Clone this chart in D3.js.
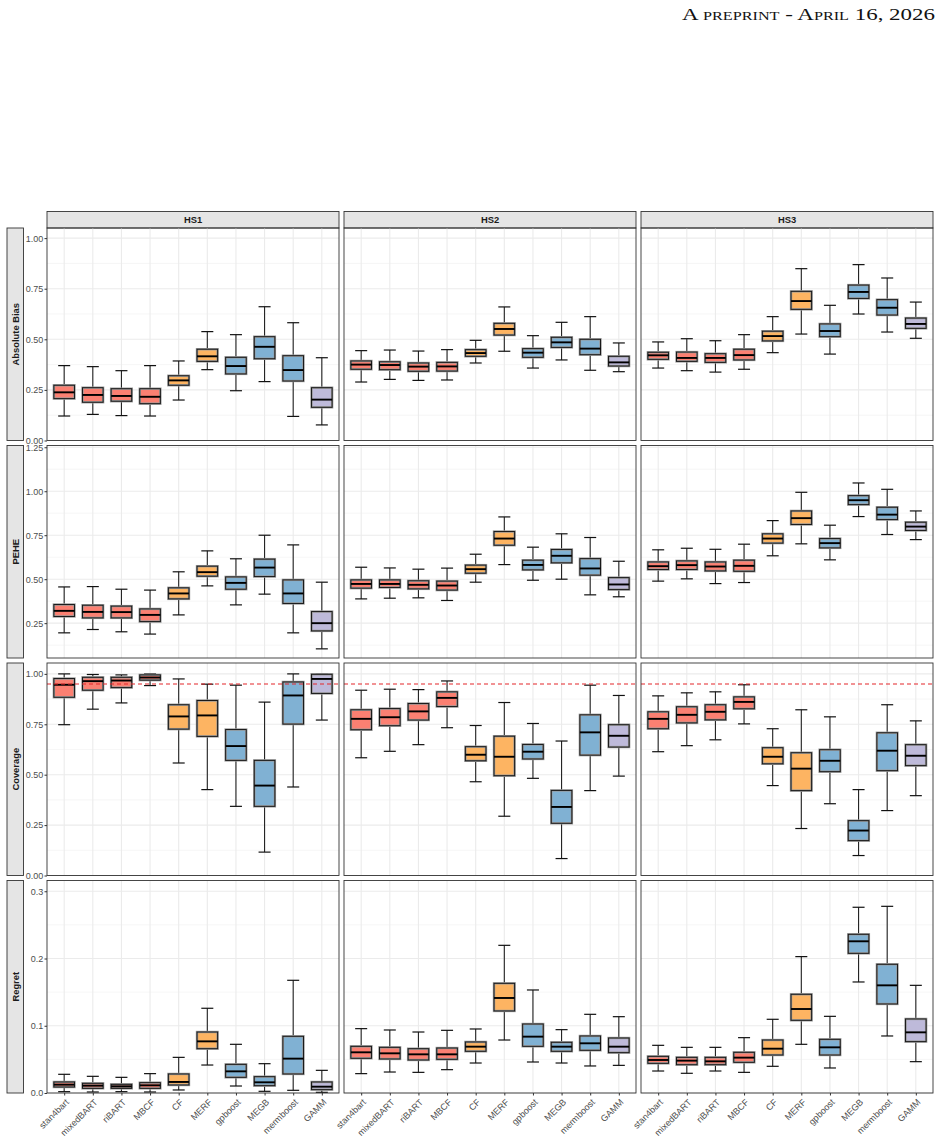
<!DOCTYPE html>
<html>
<head>
<meta charset="utf-8">
<script src="https://cdn.jsdelivr.net/npm/d3@7"></script>
<style>
  body { margin: 0; background: #fff; }
  svg { display: block; }
</style>
</head>
<body>
<div id="chart"></div>
<script>
// methods on the x axis (same for every panel)
const methods = ['stan4bart', 'mixedBART', 'riBART', 'MBCF', 'CF', 'MERF', 'gpboost', 'MEGB', 'mermboost', 'GAMM'];
const methodGroup = ['bart', 'bart', 'bart', 'bart', 'forest', 'forest', 'boost', 'boost', 'boost', 'gamm'];
const groupColors = { bart: '#FB8072', forest: '#FDB462', boost: '#80B1D3', gamm: '#BEBADA' };

const scenarios = ['HS1', 'HS2', 'HS3'];
const metrics = ['Absolute Bias', 'PEHE', 'Coverage', 'Regret'];

// y ranges and tick labels per metric row
const yDomains = [[0, 1.05], [0.052, 1.26], [0, 1.054], [0, 0.316]];
const yTicks = [[0, 0.25, 0.5, 0.75, 1], [0.25, 0.5, 0.75, 1, 1.25], [0, 0.25, 0.5, 0.75, 1], [0, 0.1, 0.2, 0.3]];
const yMinor = [[0.125, 0.375, 0.625, 0.875], [0.125, 0.375, 0.625, 0.875, 1.125], [0.125, 0.375, 0.625, 0.875], [0.05, 0.15, 0.25]];
const yFormats = ['.2f', '.2f', '.2f', '.1f'];
const coverageTarget = 0.95;

// box stats per method: [lower whisker, q1, median, q3, upper whisker]
const biasHS1 = [[0.121, 0.207, 0.238, 0.273, 0.370], [0.129, 0.189, 0.225, 0.261, 0.365], [0.123, 0.194, 0.220, 0.256, 0.345], [0.121, 0.182, 0.216, 0.256, 0.370], [0.200, 0.273, 0.297, 0.320, 0.393],
  [0.350, 0.391, 0.416, 0.451, 0.538], [0.246, 0.329, 0.368, 0.411, 0.523], [0.291, 0.404, 0.463, 0.513, 0.661], [0.119, 0.294, 0.348, 0.419, 0.582], [0.077, 0.164, 0.202, 0.261, 0.409]];
const biasHS2 = [[0.289, 0.352, 0.375, 0.393, 0.444], [0.302, 0.350, 0.373, 0.389, 0.447], [0.297, 0.342, 0.365, 0.383, 0.442], [0.299, 0.343, 0.366, 0.386, 0.449], [0.383, 0.416, 0.432, 0.449, 0.495],
  [0.441, 0.521, 0.551, 0.579, 0.660], [0.358, 0.411, 0.434, 0.454, 0.518], [0.398, 0.460, 0.485, 0.510, 0.584], [0.347, 0.424, 0.454, 0.500, 0.612], [0.340, 0.368, 0.386, 0.416, 0.482]];
const biasHS3 = [[0.358, 0.401, 0.421, 0.436, 0.487], [0.345, 0.391, 0.408, 0.437, 0.503], [0.338, 0.386, 0.408, 0.429, 0.493], [0.352, 0.398, 0.422, 0.451, 0.523], [0.434, 0.492, 0.516, 0.540, 0.612],
  [0.526, 0.648, 0.689, 0.737, 0.849], [0.427, 0.513, 0.541, 0.576, 0.668], [0.625, 0.702, 0.734, 0.768, 0.869], [0.536, 0.620, 0.656, 0.696, 0.803], [0.505, 0.554, 0.576, 0.605, 0.684]];

const peheHS1 = [[0.195, 0.288, 0.320, 0.356, 0.456], [0.214, 0.280, 0.314, 0.352, 0.458], [0.201, 0.280, 0.313, 0.347, 0.443], [0.188, 0.259, 0.297, 0.331, 0.438], [0.297, 0.388, 0.419, 0.451, 0.542],
  [0.462, 0.517, 0.540, 0.574, 0.661], [0.354, 0.443, 0.479, 0.513, 0.616], [0.415, 0.515, 0.566, 0.614, 0.750], [0.195, 0.362, 0.419, 0.496, 0.695], [0.104, 0.206, 0.250, 0.316, 0.483]];
const peheHS2 = [[0.388, 0.449, 0.473, 0.496, 0.568], [0.392, 0.453, 0.473, 0.496, 0.564], [0.394, 0.445, 0.468, 0.491, 0.557], [0.379, 0.438, 0.464, 0.489, 0.563], [0.483, 0.534, 0.557, 0.580, 0.642],
  [0.583, 0.693, 0.731, 0.771, 0.854], [0.494, 0.553, 0.581, 0.608, 0.682], [0.500, 0.593, 0.633, 0.669, 0.758], [0.411, 0.523, 0.561, 0.617, 0.737], [0.400, 0.441, 0.470, 0.509, 0.602]];
const peheHS3 = [[0.489, 0.555, 0.574, 0.598, 0.667], [0.502, 0.555, 0.580, 0.604, 0.676], [0.475, 0.547, 0.572, 0.598, 0.670], [0.481, 0.545, 0.576, 0.608, 0.699], [0.633, 0.705, 0.731, 0.758, 0.833],
  [0.701, 0.811, 0.847, 0.888, 0.994], [0.610, 0.678, 0.705, 0.731, 0.807], [0.856, 0.924, 0.949, 0.975, 1.047], [0.754, 0.839, 0.867, 0.909, 1.011], [0.725, 0.777, 0.799, 0.824, 0.888]];

const coverHS1 = [[0.748, 0.884, 0.946, 0.977, 1.000], [0.825, 0.919, 0.964, 0.983, 0.997], [0.856, 0.932, 0.967, 0.983, 0.995], [0.942, 0.969, 0.982, 0.995, 1.000], [0.558, 0.726, 0.789, 0.847, 0.975],
  [0.426, 0.690, 0.794, 0.868, 0.949], [0.343, 0.571, 0.642, 0.724, 0.944], [0.116, 0.343, 0.446, 0.571, 0.860], [0.439, 0.751, 0.893, 0.960, 1.000], [0.771, 0.903, 0.975, 0.998, 1.000]];
const coverHS2 = [[0.584, 0.723, 0.777, 0.822, 0.919], [0.616, 0.743, 0.785, 0.828, 0.924], [0.649, 0.771, 0.814, 0.853, 0.922], [0.733, 0.838, 0.881, 0.911, 0.965], [0.465, 0.569, 0.599, 0.639, 0.744],
  [0.294, 0.495, 0.589, 0.691, 0.858], [0.482, 0.578, 0.614, 0.650, 0.754], [0.084, 0.259, 0.340, 0.422, 0.667], [0.421, 0.597, 0.710, 0.797, 0.944], [0.493, 0.637, 0.693, 0.748, 0.893]];
const coverHS3 = [[0.614, 0.728, 0.777, 0.812, 0.891], [0.644, 0.757, 0.797, 0.837, 0.906], [0.673, 0.772, 0.812, 0.847, 0.911], [0.752, 0.827, 0.861, 0.886, 0.946], [0.446, 0.554, 0.589, 0.634, 0.728],
  [0.233, 0.421, 0.530, 0.609, 0.822], [0.356, 0.515, 0.569, 0.624, 0.787], [0.099, 0.173, 0.223, 0.272, 0.426], [0.322, 0.520, 0.619, 0.708, 0.847], [0.396, 0.545, 0.594, 0.649, 0.767]];

const regretHS1 = [[0.0020, 0.0089, 0.0124, 0.0164, 0.0278], [0.0015, 0.0069, 0.0109, 0.0144, 0.0248], [0.0020, 0.0069, 0.0099, 0.0129, 0.0233], [0.0015, 0.0069, 0.0114, 0.0154, 0.0288], [0.0045, 0.0119, 0.0164, 0.0283, 0.0530],
  [0.0416, 0.0659, 0.0768, 0.0907, 0.1260], [0.0104, 0.0233, 0.0322, 0.0426, 0.0724], [0.0025, 0.0109, 0.0159, 0.0243, 0.0436], [0.0040, 0.0283, 0.0511, 0.0843, 0.1676], [0.0010, 0.0050, 0.0094, 0.0164, 0.0337]];
const regretHS2 = [[0.0288, 0.0516, 0.0605, 0.0694, 0.0957], [0.0312, 0.0506, 0.0590, 0.0679, 0.0937], [0.0307, 0.0491, 0.0575, 0.0659, 0.0907], [0.0347, 0.0501, 0.0575, 0.0669, 0.0932], [0.0446, 0.0620, 0.0689, 0.0759, 0.0952],
  [0.0788, 0.1220, 0.1413, 0.1631, 0.2196], [0.0461, 0.0694, 0.0838, 0.1026, 0.1532], [0.0446, 0.0620, 0.0689, 0.0754, 0.0942], [0.0402, 0.0635, 0.0739, 0.0848, 0.1170], [0.0411, 0.0600, 0.0689, 0.0818, 0.1135]];
const regretHS3 = [[0.0327, 0.0441, 0.0491, 0.0545, 0.0709], [0.0293, 0.0421, 0.0481, 0.0530, 0.0679], [0.0327, 0.0421, 0.0471, 0.0530, 0.0679], [0.0307, 0.0456, 0.0526, 0.0605, 0.0823], [0.0397, 0.0565, 0.0659, 0.0788, 0.1096],
  [0.0724, 0.1081, 0.1249, 0.1468, 0.2028], [0.0372, 0.0565, 0.0679, 0.0798, 0.1140], [0.1651, 0.2077, 0.2256, 0.2360, 0.2762], [0.0848, 0.1324, 0.1601, 0.1914, 0.2776], [0.0466, 0.0764, 0.0902, 0.1101, 0.1601]];

// rows = metrics, columns = scenarios
const panelData = [
  [biasHS1, biasHS2, biasHS3],
  [peheHS1, peheHS2, peheHS3],
  [coverHS1, coverHS2, coverHS3],
  [regretHS1, regretHS2, regretHS3]
];

const W = 943, H = 1142;
const panelLeft = 47, panelW = 292, panelGapX = 5;
const panelTop = 228, panelH = 212.5, panelGapY = 5;
const stripH = 16.5;
const sans = '"Liberation Sans", Arial, sans-serif';

const svg = d3.select('#chart').append('svg')
  .attr('width', W)
  .attr('height', H)
  .style('font-family', sans);

// page header
svg.append('text')
  .attr('x', 682)
  .attr('y', 19.5)
  .attr('textLength', 253)
  .attr('lengthAdjust', 'spacingAndGlyphs')
  .style('font-family', '"Liberation Serif", "DejaVu Serif", serif')
  .style('font-variant', 'small-caps')
  .style('font-size', '17px')
  .style('fill', '#111')
  .text('A preprint - April 16, 2026');

const x = d3.scalePoint().domain(methods).range([0, panelW]).padding(0.6);
const step = x.step();
const boxW = step * 0.72;
const capW = step * 0.42;

// column strips
scenarios.forEach((s, j) => {
  const px = panelLeft + j * (panelW + panelGapX);
  const g = svg.append('g').attr('transform', `translate(${px},${panelTop - stripH})`);
  g.append('rect').attr('width', panelW).attr('height', stripH)
    .attr('fill', '#E5E5E5').attr('stroke', '#333').attr('stroke-width', 0.9);
  g.append('text').attr('x', panelW / 2).attr('y', stripH / 2).attr('dy', '0.35em')
    .attr('text-anchor', 'middle')
    .style('font-size', '9.4px').style('font-weight', 'bold').style('fill', '#1A1A1A')
    .text(s);
});

metrics.forEach((m, i) => {
  const py = panelTop + i * (panelH + panelGapY);
  const y = d3.scaleLinear().domain(yDomains[i]).range([panelH, 0]);

  // row strip on the left
  const sg = svg.append('g').attr('transform', `translate(7,${py})`);
  sg.append('rect').attr('width', stripH).attr('height', panelH)
    .attr('fill', '#E5E5E5').attr('stroke', '#333').attr('stroke-width', 0.9);
  sg.append('text')
    .attr('transform', `translate(${stripH / 2},${panelH / 2}) rotate(-90)`)
    .attr('dy', '0.35em').attr('text-anchor', 'middle')
    .style('font-size', '9.4px').style('font-weight', 'bold').style('fill', '#1A1A1A')
    .text(m);

  scenarios.forEach((s, j) => {
    const px = panelLeft + j * (panelW + panelGapX);
    const g = svg.append('g').attr('transform', `translate(${px},${py})`);

    // grid
    g.selectAll('.minor').data(yMinor[i]).enter().append('line')
      .attr('x1', 0).attr('x2', panelW)
      .attr('y1', d => y(d)).attr('y2', d => y(d))
      .attr('stroke', '#F2F2F2').attr('stroke-width', 0.7);
    g.selectAll('.major').data(yTicks[i]).enter().append('line')
      .attr('x1', 0).attr('x2', panelW)
      .attr('y1', d => y(d)).attr('y2', d => y(d))
      .attr('stroke', '#EBEBEB').attr('stroke-width', 1.1);
    g.selectAll('.vgrid').data(methods).enter().append('line')
      .attr('x1', d => x(d)).attr('x2', d => x(d))
      .attr('y1', 0).attr('y2', panelH)
      .attr('stroke', '#EBEBEB').attr('stroke-width', 1.1);

    const stats = panelData[i][j];
    const boxes = g.selectAll('.box').data(stats).enter().append('g')
      .attr('transform', (d, k) => `translate(${x(methods[k])},0)`);

    // whiskers + caps
    boxes.append('line').attr('x1', 0).attr('x2', 0)
      .attr('y1', d => y(d[0])).attr('y2', d => y(d[1]))
      .attr('stroke', '#222').attr('stroke-width', 1.1);
    boxes.append('line').attr('x1', 0).attr('x2', 0)
      .attr('y1', d => y(d[3])).attr('y2', d => y(d[4]))
      .attr('stroke', '#222').attr('stroke-width', 1.1);
    boxes.append('line').attr('x1', -capW / 2).attr('x2', capW / 2)
      .attr('y1', d => y(d[0])).attr('y2', d => y(d[0]))
      .attr('stroke', '#111').attr('stroke-width', 1.2);
    boxes.append('line').attr('x1', -capW / 2).attr('x2', capW / 2)
      .attr('y1', d => y(d[4])).attr('y2', d => y(d[4]))
      .attr('stroke', '#111').attr('stroke-width', 1.2);

    // box: soft grey halo under a dark outline
    boxes.append('rect')
      .attr('x', -boxW / 2).attr('width', boxW)
      .attr('y', d => y(d[3])).attr('height', d => Math.max(0.5, y(d[1]) - y(d[3])))
      .attr('fill', (d, k) => groupColors[methodGroup[k]])
      .attr('stroke', '#9A9A9A').attr('stroke-width', 2.4);
    boxes.append('rect')
      .attr('x', -boxW / 2).attr('width', boxW)
      .attr('y', d => y(d[3])).attr('height', d => Math.max(0.5, y(d[1]) - y(d[3])))
      .attr('fill', 'none')
      .attr('stroke', '#1A1A1A').attr('stroke-width', 1.0);
    boxes.append('line')
      .attr('x1', -boxW / 2).attr('x2', boxW / 2)
      .attr('y1', d => y(d[2])).attr('y2', d => y(d[2]))
      .attr('stroke', '#000').attr('stroke-width', 1.9);

    // nominal coverage line
    if (m === 'Coverage') {
      g.append('line')
        .attr('x1', 0).attr('x2', panelW)
        .attr('y1', y(coverageTarget)).attr('y2', y(coverageTarget))
        .attr('stroke', '#E3262A').attr('stroke-width', 1.1)
        .attr('stroke-dasharray', '4,3');
    }

    // panel border
    g.append('rect').attr('width', panelW).attr('height', panelH)
      .attr('fill', 'none').attr('stroke', '#333').attr('stroke-width', 0.9);

    // y axis on first column only
    if (j === 0) {
      const ax = g.append('g')
        .call(d3.axisLeft(y).tickValues(yTicks[i]).tickFormat(d3.format(yFormats[i])).tickSize(2.5).tickPadding(1.2));
      ax.select('.domain').remove();
      ax.selectAll('line').attr('stroke', '#333');
      ax.selectAll('text').style('font-size', '9px').style('fill', '#4D4D4D')
        .style('font-family', sans);
    }

    // x axis on bottom row only
    if (i === metrics.length - 1) {
      const ax = g.append('g').attr('transform', `translate(0,${panelH})`)
        .call(d3.axisBottom(x).tickSize(2.5).tickPadding(2));
      ax.select('.domain').remove();
      ax.selectAll('line').attr('stroke', '#333');
      ax.selectAll('text')
        .attr('y', 0).attr('x', 0).attr('dy', '0.75em')
        .attr('transform', 'translate(0,5) rotate(-45)')
        .attr('text-anchor', 'end')
        .style('font-size', '9px').style('fill', '#4D4D4D')
        .style('font-family', sans);
    }
  });
});
</script>
</body>
</html>
